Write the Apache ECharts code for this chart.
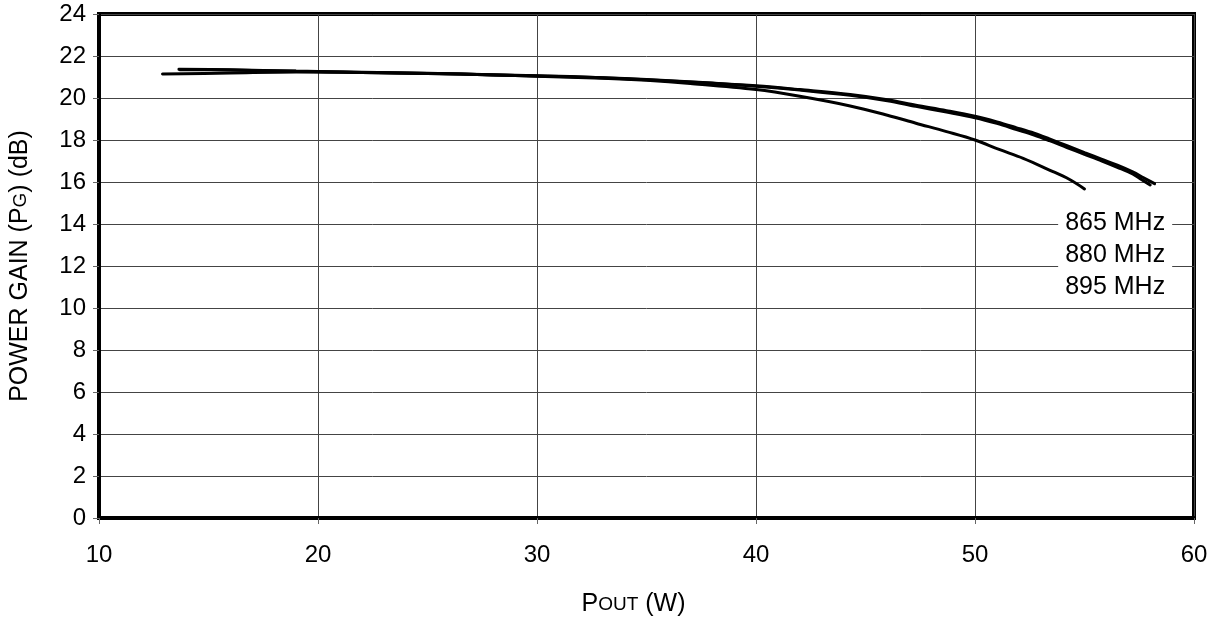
<!DOCTYPE html>
<html>
<head>
<meta charset="utf-8">
<script src="https://cdn.jsdelivr.net/npm/echarts@6/dist/echarts.min.js"></script>
<style>
html,body{margin:0;padding:0;background:#fff;}
#chart{width:1220px;height:617px;}
</style>
</head>
<body>
<div id="chart"></div>
<script>
// Data (Pout in W, gain in dB)
const pout865 = [13.65, 16, 19, 22, 25, 28, 30, 33, 35, 38, 40, 42, 44.3, 46, 47.3, 48.7, 50, 51, 51.9, 52.7, 53.4, 54.2, 55, 55.8, 56.5, 57.2, 57.7, 58.2];
const gain865 = [21.37, 21.34, 21.28, 21.23, 21.18, 21.11, 21.06, 20.97, 20.88, 20.71, 20.58, 20.40, 20.17, 19.92, 19.66, 19.40, 19.13, 18.86, 18.58, 18.32, 18.05, 17.73, 17.40, 17.08, 16.80, 16.48, 16.20, 15.92];
const pout880 = [12.9, 16, 19, 22, 25, 28, 30, 33, 35, 38, 40, 42, 44.3, 46, 47.3, 48.7, 50, 51, 51.9, 52.7, 53.4, 54.2, 55, 55.8, 56.5, 57.2, 57.6, 58.0];
const gain880 = [21.14, 21.19, 21.24, 21.21, 21.17, 21.10, 21.05, 20.96, 20.87, 20.70, 20.56, 20.38, 20.13, 19.87, 19.60, 19.33, 19.06, 18.79, 18.50, 18.24, 17.97, 17.64, 17.32, 17.00, 16.70, 16.38, 16.12, 15.86];
const pout895 = [13.7, 16, 19, 22, 25, 28, 30, 33, 35, 37, 40, 42, 44.3, 46, 47.3, 48.7, 50, 51.1, 52.2, 53.4, 54.3, 55.0];
const gain895 = [21.35, 21.33, 21.27, 21.22, 21.17, 21.10, 21.04, 20.94, 20.84, 20.69, 20.40, 20.08, 19.62, 19.18, 18.80, 18.40, 18.00, 17.55, 17.13, 16.57, 16.13, 15.67];
const seriesNames = ['865 MHz', '880 MHz', '895 MHz'];
const labelX = [56.4, 56.4, 56.4];
const labelY = [14.05, 12.52, 11.0];
const xTicks = [10, 20, 30, 40, 50, 60];
const yTicks = [0, 2, 4, 6, 8, 10, 12, 14, 16, 18, 20, 22, 24];

const FONT = '"Liberation Sans", Arial, Helvetica, sans-serif';
const zip = (a, b) => a.map((v, i) => [v, b[i]]);

const chart = echarts.init(document.getElementById('chart'), null, {renderer: 'canvas'});
const lineSeries = [[pout865, gain865], [pout880, gain880], [pout895, gain895]].map((d, i) => ({
  name: seriesNames[i],
  type: 'line',
  data: zip(d[0], d[1]),
  smooth: 0.35,
  showSymbol: false,
  symbol: 'none',
  lineStyle: {color: '#000', width: 3, cap: 'round'},
  z: 5
}));

chart.setOption({
  animation: false,
  backgroundColor: '#fff',
  grid: {left: 99, right: 26, top: 14, bottom: 99, containLabel: false, outerBoundsMode: 'none',
         show: true, borderColor: '#000', borderWidth: 4, backgroundColor: 'transparent'},
  xAxis: {
    type: 'value', min: xTicks[0], max: xTicks[xTicks.length - 1], interval: 10,
    axisLine: {show: true, lineStyle: {color: '#000', width: 4}},
    axisTick: {show: true, length: 6, lineStyle: {color: '#666', width: 1}},
    axisLabel: {color: '#000', fontFamily: FONT, fontSize: 24, margin: 25},
    splitLine: {show: true, lineStyle: {color: '#444', width: 1}},
    name: '{big|P}{small|OUT}{big| (W)}',
    nameLocation: 'middle', nameGap: 74,
    nameTextStyle: {
      fontFamily: FONT, color: '#000', padding: [0, 26, 0, 0],
      rich: {big: {fontSize: 25, fontFamily: FONT, color: '#000'}, small: {fontSize: 19, fontFamily: FONT, color: '#000'}}
    }
  },
  yAxis: {
    type: 'value', min: yTicks[0], max: yTicks[yTicks.length - 1], interval: 2,
    axisLine: {show: true, lineStyle: {color: '#000', width: 4}},
    axisTick: {show: true, length: 6, lineStyle: {color: '#666', width: 1}},
    axisLabel: {color: '#000', fontFamily: FONT, fontSize: 24, margin: 13},
    splitLine: {show: true, lineStyle: {color: '#444', width: 1}},
    name: '{big|POWER GAIN (P}{small|G}{big|) (dB)}',
    nameLocation: 'middle', nameGap: 66, nameRotate: 90,
    nameTextStyle: {
      fontFamily: FONT, color: '#000',
      rich: {big: {fontSize: 25, fontFamily: FONT, color: '#000'}, small: {fontSize: 19, fontFamily: FONT, color: '#000'}}
    }
  },
  series: lineSeries.concat([{
    type: 'scatter',
    data: zip(labelX, labelY).map((p, i) => ({value: p, name: seriesNames[i]})),
    symbolSize: 0,
    silent: true,
    z: 10,
    itemStyle: {color: '#000', opacity: 1},
    label: {
      show: true, position: 'inside',
      formatter: p => p.name,
      fontFamily: FONT, fontSize: 25, color: '#000', opacity: 1,
      backgroundColor: '#fff', padding: [1, 7, 1, 7]
    }
  }])
});
</script>
</body>
</html>
